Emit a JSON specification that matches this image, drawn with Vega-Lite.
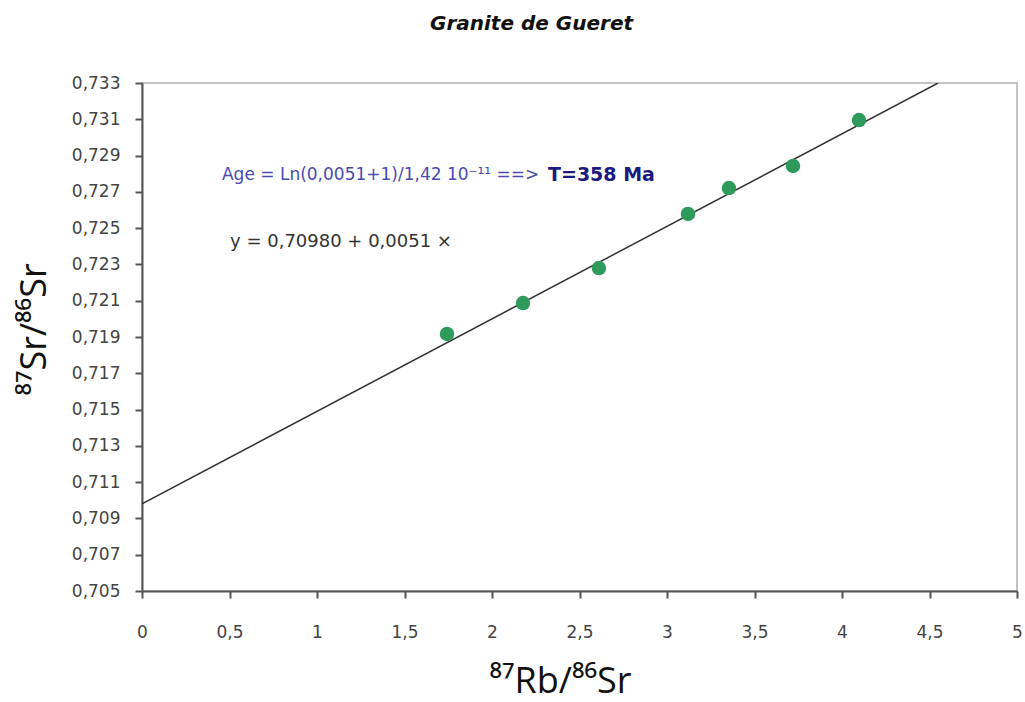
{
  "$schema": "https://vega.github.io/schema/vega-lite/v6.json",
  "autosize": "none",
  "width": 875,
  "height": 508,
  "padding": {"left": 142, "top": 83, "right": 8, "bottom": 111},
  "background": "white",
  "title": {
    "text": "Granite de Gueret",
    "font": "DejaVu Sans",
    "fontSize": 20,
    "fontWeight": "bold",
    "fontStyle": "italic",
    "color": "#111",
    "anchor": "middle",
    "dx": -48,
    "offset": 40
  },
  "config": {
    "view": {"stroke": "#b0b0b0", "strokeWidth": 1.5},
    "axis": {
      "grid": false,
      "domainColor": "#555",
      "domainWidth": 2,
      "tickColor": "#555",
      "tickWidth": 2,
      "tickSize": 7,
      "labelFont": "DejaVu Sans",
      "labelFontSize": 17,
      "labelColor": "#444",
      "labelOverlap": false,
      "labelFlush": false,
      "titleFont": "Open Sans",
      "titleFontWeight": "normal",
      "titleFontSize": 36,
      "titleColor": "#111"
    }
  },
  "datasets": {
    "pts": [
      {"rb": 1.743, "sr": 0.71917},
      {"rb": 2.177, "sr": 0.72087},
      {"rb": 2.611, "sr": 0.72280},
      {"rb": 3.120, "sr": 0.72578},
      {"rb": 3.354, "sr": 0.72721},
      {"rb": 3.720, "sr": 0.72843},
      {"rb": 4.097, "sr": 0.73096}
    ],
    "fit": [
      {"rb": 0, "sr": 0.7098},
      {"rb": 4.549, "sr": 0.7330}
    ]
  },
  "layer": [
    {
      "data": {"name": "fit"},
      "mark": {"type": "line", "color": "#333", "strokeWidth": 1.5, "clip": true},
      "encoding": {
        "x": {
          "field": "rb", "type": "quantitative",
          "scale": {"domain": [0, 5], "nice": false, "zero": false},
          "axis": {
            "title": "⁸⁷Rb/⁸⁶Sr",
            "values": [0, 0.5, 1, 1.5, 2, 2.5, 3, 3.5, 4, 4.5, 5],
            "labelFlush": false,
            "labelExpr": "replace(toString(datum.value), '.', ',')",
            "labelPadding": 26,
            "titlePadding": 24,
            "titleX": 418
          }
        },
        "y": {
          "field": "sr", "type": "quantitative",
          "scale": {"domain": [0.705, 0.733], "nice": false, "zero": false},
          "axis": {
            "title": "⁸⁷Sr/⁸⁶Sr",
            "values": [0.705, 0.707, 0.709, 0.711, 0.713, 0.715, 0.717, 0.719, 0.721, 0.723, 0.725, 0.727, 0.729, 0.731, 0.733],
            "tickCount": 15,
            "labelOverlap": false,
            "labelFlush": false,
            "labelExpr": "replace(format(datum.value, '.3f'), '.', ',')",
            "labelPadding": 15,
            "titlePadding": 18,
            "titleY": 246
          }
        }
      }
    },
    {
      "data": {"name": "pts"},
      "mark": {"type": "circle", "color": "#2e9b5c", "opacity": 1, "size": 210},
      "encoding": {
        "x": {"field": "rb", "type": "quantitative"},
        "y": {"field": "sr", "type": "quantitative"}
      }
    },
    {
      "data": {"values": [{}]},
      "mark": {"type": "text", "align": "left", "baseline": "middle", "font": "DejaVu Sans", "fontSize": 17, "color": "#4a4ab0", "text": "Age = Ln(0,0051+1)/1,42 10⁻¹¹ ==>"},
      "encoding": {
        "x": {"datum": 0.457, "type": "quantitative"},
        "y": {"datum": 0.72793, "type": "quantitative"}
      }
    },
    {
      "data": {"values": [{}]},
      "mark": {"type": "text", "align": "left", "baseline": "middle", "font": "DejaVu Sans", "fontSize": 19, "fontWeight": "bold", "color": "#1a1a80", "text": "T=358 Ma"},
      "encoding": {
        "x": {"datum": 2.32, "type": "quantitative"},
        "y": {"datum": 0.72793, "type": "quantitative"}
      }
    },
    {
      "data": {"values": [{}]},
      "mark": {"type": "text", "align": "left", "baseline": "middle", "font": "DejaVu Sans", "fontSize": 18, "color": "#333", "text": "y = 0,70980 + 0,0051 ×"},
      "encoding": {
        "x": {"datum": 0.503, "type": "quantitative"},
        "y": {"datum": 0.72424, "type": "quantitative"}
      }
    }
  ]
}
